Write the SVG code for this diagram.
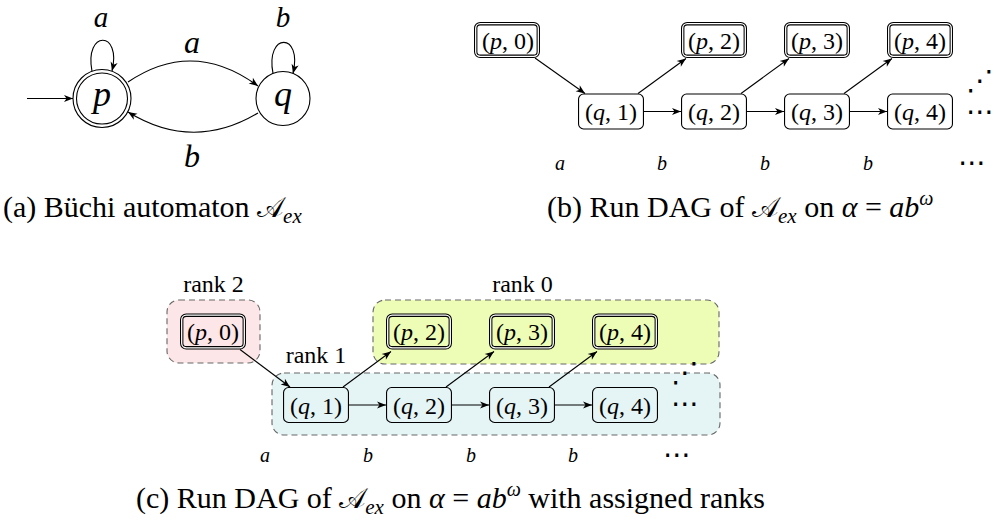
<svg xmlns="http://www.w3.org/2000/svg" width="1003" height="522" viewBox="0 0 1003 522">
<defs>
<marker id="arr" viewBox="-10 -5 11 10" refX="0" refY="0" markerWidth="11" markerHeight="10" markerUnits="userSpaceOnUse" orient="auto">
<path d="M0,0 L-9,-3.6 L-6.5,0 L-9,3.6 Z" fill="#000"/>
</marker>
</defs>
<style>
text{font-family:"Liberation Serif","DejaVu Serif",serif;fill:#000}
.cap{font-size:30px}
.cal{font-family:"DejaVu Serif","DejaVu Sans","Noto Sans",serif;font-size:28px}
.big{font-size:36px;font-style:italic;text-anchor:middle}
.tl{font-size:32px;font-style:italic;text-anchor:middle}
.tt{font-size:29px;font-style:italic;text-anchor:middle}
.nt{font-size:24px;text-anchor:middle}
.sl{font-size:20px;font-style:italic;text-anchor:middle}
.rk{font-size:24px;text-anchor:middle}
.it{font-style:italic}
.dots{font-family:"DejaVu Sans",sans-serif;font-size:28px;text-anchor:middle}
.edge{fill:none;stroke:#000;stroke-width:1.1;marker-end:url(#arr)}
.st{fill:none;stroke:#000;stroke-width:1.1}
.qn{fill:#fff;stroke:#000;stroke-width:1.1}
.qc{fill:none;stroke:#000;stroke-width:1.1}
.po{fill:#fff;stroke:#000;stroke-width:3.4}
.pc{fill:none;stroke:#000;stroke-width:3.4}
.pi{fill:none;stroke:#fff;stroke-width:1.3}
.reg{stroke:#666;stroke-width:1.1;stroke-dasharray:6 4}
</style>

<!-- (a) automaton -->
<g id="state-p">
<circle cx="102" cy="98.5" r="29" class="st"/>
<circle cx="102" cy="98.5" r="25.5" class="st"/>
<text x="102" y="106" class="big">p</text>
</g>
<g id="state-q">
<circle cx="283" cy="98.5" r="27" class="st"/>
<text x="283" y="106" class="big">q</text>
</g>
<g id="labels-a">
<text x="101" y="27" class="tt">a</text>
<text x="283" y="27" class="tt">b</text>
<text x="192" y="53" class="tl">a</text>
<text x="192" y="167" class="tl">b</text>
</g>
<text x="3" y="217" class="cap">(a) Büchi automaton <tspan class="cal">𝒜</tspan><tspan class="it" font-size="21" dy="6">ex</tspan></text>

<!-- (b) run DAG -->
<g id="b-p0"><rect x="475.7" y="23.7" width="62.6" height="32.6" rx="4.5" class="po"/><rect x="475.7" y="23.7" width="62.6" height="32.6" rx="4.5" class="pi"/><text x="508" y="48.5" class="nt">(<tspan class="it">p</tspan>, 0)</text></g>
<g id="b-q1"><rect x="578.55" y="94.05" width="64.9" height="34.9" rx="5" class="qn"/><text x="611" y="120" class="nt">(<tspan class="it">q</tspan>, 1)</text></g>
<g id="b-p2"><rect x="682.7" y="23.7" width="62.6" height="32.6" rx="4.5" class="po"/><rect x="682.7" y="23.7" width="62.6" height="32.6" rx="4.5" class="pi"/><text x="714" y="48.5" class="nt">(<tspan class="it">p</tspan>, 2)</text></g>
<g id="b-q2"><rect x="681.55" y="94.05" width="64.9" height="34.9" rx="5" class="qn"/><text x="714" y="120" class="nt">(<tspan class="it">q</tspan>, 2)</text></g>
<g id="b-p3"><rect x="785.7" y="23.7" width="62.6" height="32.6" rx="4.5" class="po"/><rect x="785.7" y="23.7" width="62.6" height="32.6" rx="4.5" class="pi"/><text x="817" y="48.5" class="nt">(<tspan class="it">p</tspan>, 3)</text></g>
<g id="b-q3"><rect x="784.55" y="94.05" width="64.9" height="34.9" rx="5" class="qn"/><text x="817" y="120" class="nt">(<tspan class="it">q</tspan>, 3)</text></g>
<g id="b-p4"><rect x="888.7" y="23.7" width="62.6" height="32.6" rx="4.5" class="po"/><rect x="888.7" y="23.7" width="62.6" height="32.6" rx="4.5" class="pi"/><text x="920" y="48.5" class="nt">(<tspan class="it">p</tspan>, 4)</text></g>
<g id="b-q4"><rect x="887.55" y="94.05" width="64.9" height="34.9" rx="5" class="qn"/><text x="920" y="120" class="nt">(<tspan class="it">q</tspan>, 4)</text></g>
<g id="b-dots">
<text x="980" y="90" class="dots">⋰</text>
<text x="980" y="121" class="dots">⋯</text>
</g>
<g id="b-labels">
<text x="560" y="170" class="sl">a</text>
<text x="662" y="170" class="sl">b</text>
<text x="765" y="170" class="sl">b</text>
<text x="868" y="170" class="sl">b</text>
<text x="972" y="172" class="dots">⋯</text>
</g>
<text x="547" y="217" class="cap">(b) Run DAG of <tspan class="cal">𝒜</tspan><tspan class="it" font-size="21" dy="6">ex</tspan><tspan dy="-6"> on </tspan><tspan class="it">α</tspan> = <tspan class="it">ab</tspan><tspan class="it" font-size="20" dy="-12">ω</tspan></text>

<!-- (c) ranked run DAG -->
<g id="rank2">
<rect x="167" y="300" width="93" height="63" rx="12" fill="#fde6e7" class="reg"/>
<text x="213.5" y="292" class="rk">rank 2</text>
</g>
<g id="rank0">
<rect x="373" y="300" width="346" height="64" rx="12" fill="#edfdb6" class="reg"/>
<text x="522.5" y="292" class="rk">rank 0</text>
</g>
<g id="rank1">
<rect x="272" y="373" width="448" height="62" rx="12" fill="#e5f4f4" class="reg"/>
<text x="316" y="363" class="rk">rank 1</text>
</g>
<g id="c-p0"><rect x="181.7" y="315.2" width="62.6" height="32.6" rx="4.5" class="pc"/><rect x="181.7" y="315.2" width="62.6" height="32.6" rx="4.5" class="pi"/><text x="213" y="340" class="nt">(<tspan class="it">p</tspan>, 0)</text></g>
<g id="c-q1"><rect x="283.55" y="387.55" width="64.9" height="34.9" rx="5" class="qc"/><text x="316" y="413.5" class="nt">(<tspan class="it">q</tspan>, 1)</text></g>
<g id="c-p2"><rect x="387.7" y="315.2" width="62.6" height="32.6" rx="4.5" class="pc"/><rect x="387.7" y="315.2" width="62.6" height="32.6" rx="4.5" class="pi"/><text x="419" y="340" class="nt">(<tspan class="it">p</tspan>, 2)</text></g>
<g id="c-q2"><rect x="386.55" y="387.55" width="64.9" height="34.9" rx="5" class="qc"/><text x="419" y="413.5" class="nt">(<tspan class="it">q</tspan>, 2)</text></g>
<g id="c-p3"><rect x="490.7" y="315.2" width="62.6" height="32.6" rx="4.5" class="pc"/><rect x="490.7" y="315.2" width="62.6" height="32.6" rx="4.5" class="pi"/><text x="522" y="340" class="nt">(<tspan class="it">p</tspan>, 3)</text></g>
<g id="c-q3"><rect x="489.55" y="387.55" width="64.9" height="34.9" rx="5" class="qc"/><text x="522" y="413.5" class="nt">(<tspan class="it">q</tspan>, 3)</text></g>
<g id="c-p4"><rect x="593.7" y="315.2" width="62.6" height="32.6" rx="4.5" class="pc"/><rect x="593.7" y="315.2" width="62.6" height="32.6" rx="4.5" class="pi"/><text x="625" y="340" class="nt">(<tspan class="it">p</tspan>, 4)</text></g>
<g id="c-q4"><rect x="592.55" y="387.55" width="64.9" height="34.9" rx="5" class="qc"/><text x="625" y="413.5" class="nt">(<tspan class="it">q</tspan>, 4)</text></g>
<g id="c-dots">
<text x="685" y="382" class="dots">⋰</text>
<text x="685" y="413" class="dots">⋯</text>
</g>
<g id="c-labels">
<text x="265" y="462" class="sl">a</text>
<text x="368" y="462" class="sl">b</text>
<text x="471" y="462" class="sl">b</text>
<text x="573" y="462" class="sl">b</text>
<text x="677" y="464" class="dots">⋯</text>
</g>
<text x="136" y="508" class="cap">(c) Run DAG of <tspan class="cal">𝒜</tspan><tspan class="it" font-size="21" dy="6">ex</tspan><tspan dy="-6"> on </tspan><tspan class="it">α</tspan> = <tspan class="it">ab</tspan><tspan class="it" font-size="20" dy="-12">ω</tspan><tspan dy="12"> with assigned ranks</tspan></text>

<g id="connectors">
<path d="M27,98.5 L73,98.5" class="edge"/>
<path d="M92,71.3 C84,30 122,30 112,71" class="edge"/>
<path d="M273,73.4 C265,32 303,32 293,73.4" class="edge"/>
<path d="M128,82 Q193,38 258,86" class="edge"/>
<path d="M258,113 Q193,152 128,112" class="edge"/>
<path d="M535,58 L585,93.5" class="edge"/>
<path d="M638,93.5 L686,58.5" class="edge"/>
<path d="M644,111.5 L681,111.5" class="edge"/>
<path d="M741,93.5 L789,58.5" class="edge"/>
<path d="M747,111.5 L784,111.5" class="edge"/>
<path d="M844,93.5 L892,58.5" class="edge"/>
<path d="M850,111.5 L887,111.5" class="edge"/>
<path d="M240,349.5 L290,387" class="edge"/>
<path d="M343,387 L391,351.5" class="edge"/>
<path d="M349,405 L386,405" class="edge"/>
<path d="M446,387 L494,351.5" class="edge"/>
<path d="M452,405 L489,405" class="edge"/>
<path d="M549,387 L597,351.5" class="edge"/>
<path d="M555,405 L592,405" class="edge"/>
</g>
</svg>
